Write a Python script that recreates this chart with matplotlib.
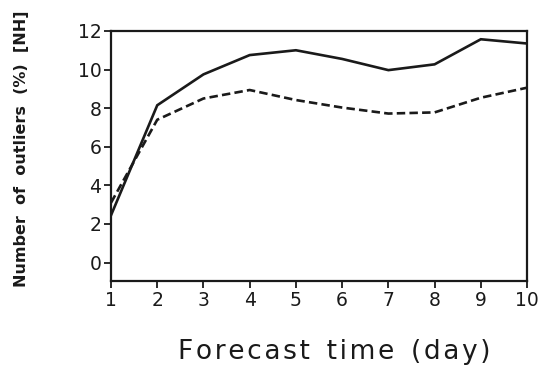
import matplotlib
matplotlib.use('Agg')
import matplotlib.pyplot as plt

# Outlier counts per forecast day
days = [1, 2, 3, 4, 5, 6, 7, 8, 9, 10]
outliers_solid = [2.45, 8.15, 9.75, 10.75, 11.0, 10.55, 9.97, 10.27, 11.57, 11.35]
outliers_dashed = [3.1, 7.4, 8.5, 8.94, 8.42, 8.03, 7.72, 7.78, 8.54, 9.06]
yticks = [0, 2, 4, 6, 8, 10, 12]

fig = plt.figure(figsize=(5.4, 3.73), dpi=100)
ax = fig.add_axes([0.2056, 0.247, 0.7704, 0.67])

ax.plot(days, outliers_solid, color='#1a1a1a', lw=1.9, solid_joinstyle='miter')
ax.plot(days, outliers_dashed, color='#1a1a1a', lw=1.9, ls=(0, (3.2, 1.6)))

ax.set_xlim(1, 10)
ax.set_ylim(-0.95, 12)
ax.set_xticks(days)
ax.set_yticks(yticks)
for s in ax.spines.values():
    s.set_linewidth(1.6)
    s.set_color('#1a1a1a')
ax.tick_params(axis='both', direction='out', length=5, width=1.3,
               labelsize=13.5, colors='#1a1a1a', pad=2)

ax.set_ylabel('Number  of  outliers  (%)  [NH]', fontsize=11.5, fontweight='bold',
              color='#1a1a1a', labelpad=0)
ax.yaxis.set_label_coords(-0.196, 0.53)

# spaced-out axis title
xlabel = '  '.join('\u200a'.join(w) for w in ['Forecast', 'time', '(day)'])
fig.text(0.619, 0.056, xlabel, fontsize=19, ha='center', va='center', color='#1a1a1a')

plt.savefig('out.png', dpi=100)
